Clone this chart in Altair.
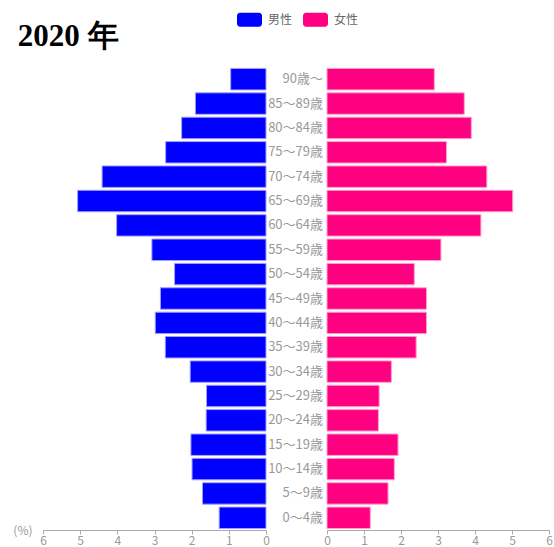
import altair as alt
import pandas as pd

ages = ["90歳～", "85～89歳", "80～84歳", "75～79歳", "70～74歳", "65～69歳",
        "60～64歳", "55～59歳", "50～54歳", "45～49歳", "40～44歳", "35～39歳",
        "30～34歳", "25～29歳", "20～24歳", "15～19歳", "10～14歳", "5～9歳", "0～4歳"]
male = [0.95, 1.90, 2.27, 2.70, 4.41, 5.07, 4.02, 3.07, 2.46, 2.84, 2.98, 2.71,
        2.04, 1.60, 1.61, 2.02, 1.99, 1.71, 1.26]
female = [2.90, 3.71, 3.90, 3.23, 4.32, 5.02, 4.16, 3.08, 2.36, 2.69, 2.69, 2.41,
          1.74, 1.41, 1.39, 1.92, 1.82, 1.65, 1.17]
sexes = ["男性", "女性"]
colors = ["#0000FF", "#FF0080"]
ticks = [0, 1, 2, 3, 4, 5, 6]

df_m = pd.DataFrame({"age": ages, "value": male, "sex": sexes[0]})
df_f = pd.DataFrame({"age": ages, "value": female, "sex": sexes[1]})
df_l = pd.DataFrame({"age": ages})

FONT = "Noto Sans CJK JP"
GRAY = "#999999"
H = 463

yenc = alt.Y("age:N", sort=ages,
             scale=alt.Scale(domain=ages, paddingInner=0.12, paddingOuter=0.06),
             axis=None)
color = alt.Color("sex:N", scale=alt.Scale(domain=sexes, range=colors),
                  legend=alt.Legend(title=None))

left = alt.Chart(df_m).mark_bar(stroke="#a0a0ff", strokeWidth=1).encode(
    x=alt.X("value:Q", scale=alt.Scale(domain=[0, 6], reverse=True, nice=False),
            axis=alt.Axis(values=ticks, title="(%)", titleX=-11, titleY=0,
                          titleAlign="right", titleBaseline="middle",
                          titleFontWeight="normal", titleColor=GRAY,
                          titleFontSize=12, titleFont=FONT)),
    y=yenc,
    color=color,
).properties(width=223, height=H)

mid = alt.Chart(df_l).mark_text(align="right", baseline="middle", fontSize=13,
                                 color=GRAY, font=FONT).encode(
    y=yenc,
    x=alt.value(57),
    text="age:N",
).properties(width=61, height=H)

right = alt.Chart(df_f).mark_bar(stroke="#ffa0d0", strokeWidth=1).encode(
    x=alt.X("value:Q", scale=alt.Scale(domain=[0, 6], nice=False),
            axis=alt.Axis(values=ticks, title=None)),
    y=yenc,
    color=color,
).properties(width=222, height=H)

legend_shape = ("M-0.76,-0.56 L0.76,-0.56 A0.24,0.24 0 0 1 1,-0.32 L1,0.32 "
                "A0.24,0.24 0 0 1 0.76,0.56 L-0.76,0.56 A0.24,0.24 0 0 1 -1,0.32 "
                "L-1,-0.32 A0.24,0.24 0 0 1 -0.76,-0.56 Z")

chart = alt.hconcat(left, mid, right, spacing=0, bounds="flush").properties(
    title=alt.TitleParams("2020 年", anchor="start", font="Liberation Serif",
                          fontSize=31, fontWeight="bold", color="#000000",
                          baseline="alphabetic", dx=5, dy=84, offset=14),
    padding={"left": 12, "top": 7, "right": 0, "bottom": 0},
).configure_view(stroke=None).configure_axis(
    domainColor="#aaaaaa", tickColor="#aaaaaa", labelColor=GRAY,
    labelFontSize=12, labelFont=FONT, tickSize=4, labelPadding=1, grid=False,
    labelFlush=False,
).configure_legend(
    orient="none", legendX=194, legendY=-60, direction="horizontal",
    symbolType=legend_shape, symbolSize=625, symbolStrokeWidth=0,
    labelFontSize=12, labelColor="#666666", labelFont=FONT, labelOffset=6,
    columnPadding=10, padding=0,
)

chart.save("out.html", embed_options={"renderer": "svg", "actions": False})
